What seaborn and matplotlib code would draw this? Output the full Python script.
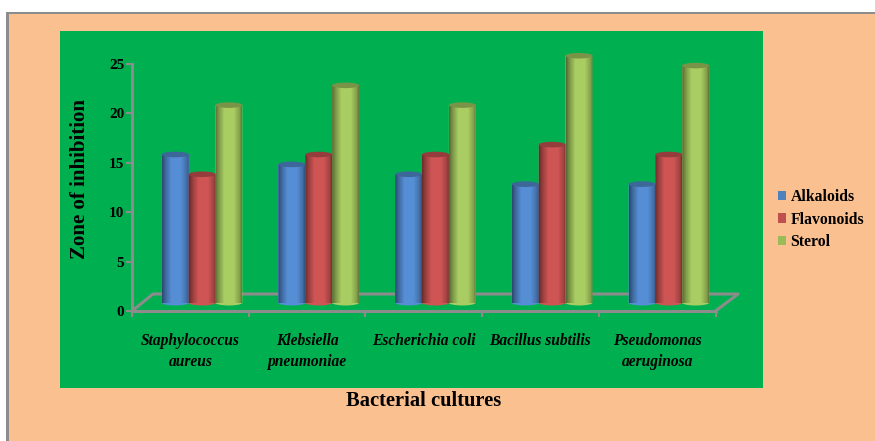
import numpy as np
import pandas as pd
import seaborn as sns
import matplotlib
matplotlib.use("Agg")
import matplotlib.pyplot as plt
from matplotlib.patches import Rectangle, Ellipse, Patch, PathPatch
from matplotlib.path import Path
from matplotlib.lines import Line2D

cultures = ["Staphylococcus\naureus", "Klebsiella\npneumoniae", "Escherichia coli",
            "Bacillus subtilis", "Pseudomonas\naeruginosa"]
alkaloids = [15, 14, 13, 12, 12]
flavonoids = [13, 15, 15, 16, 15]
sterol = [20, 22, 20, 25, 24]
series_names = ["Alkaloids", "Flavonoids", "Sterol"]
bar_colors = ["#558ED5", "#CF5555", "#A9CD62"]
legend_colors = ["#4F81BD", "#C0504D", "#9BBB59"]

W, H = 875, 441
sns.set_theme(style="white")
plt.rcParams["font.family"] = ["Liberation Serif", "DejaVu Serif"]
plt.rcParams["font.weight"] = "bold"

fig = plt.figure(figsize=(W / 100, H / 100), dpi=100, facecolor="white")


def fx(x):
    return x / W


def fy(y):
    return 1 - y / H


PEACH, GREEN, GREY = "#FBC08F", "#00B050", "#8C8C8C"
fig.add_artist(Rectangle((fx(6), 0), 1, fy(12), transform=fig.transFigure, fc=GREY, ec="none", zorder=-4))
fig.add_artist(Rectangle((fx(9), 0), 1, fy(14), transform=fig.transFigure, fc=PEACH, ec="none", zorder=-3))
fig.add_artist(Rectangle((fx(60), fy(388)), fx(703), 357 / H, transform=fig.transFigure, fc=GREEN, ec="none", zorder=-1))

L, R, T, B = 132, 715.5, 64, 311
ax = fig.add_axes([fx(L), fy(B), fx(R - L), (B - T) / H], facecolor="none")
ax.set_zorder(1)
ax.set_xlim(-0.5, 4.5)
ax.set_ylim(0, 25)
ax.set_yticks(range(0, 26, 5))
ax.set_xticks(range(5), cultures)
ax.set_xticks(np.arange(-0.5, 5), minor=True)
for s in ("top", "right"):
    ax.spines[s].set_visible(False)
for s in ("left", "bottom"):
    ax.spines[s].set_color(GREY)
    ax.spines[s].set_linewidth(2.2)
ax.tick_params(axis="y", length=4, width=1.5, color=GREY, left=True, pad=1.5, labelsize=11, labelcolor="black")
ax.tick_params(axis="x", which="major", length=0, pad=15.5, labelsize=11.2, labelcolor="black")
ax.tick_params(axis="x", which="minor", length=4, width=1.5, color=GREY, bottom=True)
for t in ax.get_xticklabels():
    t.set_fontstyle("italic")
    t.set_linespacing(1.42)
    t.set_verticalalignment("top")
ax.set_xlabel("Bacterial cultures", fontsize=14.8, fontweight="bold", color="black")
ax.xaxis.set_label_coords(fx(423.5), fy(401), transform=fig.transFigure)
ax.xaxis.label.set_va("center")
ax.set_ylabel("Zone of inhibition", fontsize=15, fontweight="bold", color="black")
ax.yaxis.set_label_coords(fx(80), fy(179), transform=fig.transFigure)
ax.yaxis.label.set_va("center")

# floor of the pseudo-3D box
xs, ys = (L, L + 21, 738, R), (B, 294, 294, B)
ax.add_line(Line2D([fx(v) for v in xs], [fy(v) for v in ys], transform=fig.transFigure,
                   color=GREY, lw=2.2, clip_on=False, zorder=0.5))

# cylinders, in an axes shifted by the depth of the box
DX, DY = 11.7, 8.3
ax3 = fig.add_axes([fx(L + DX), fy(B - DY), fx(R - L), (B - T) / H], facecolor="none")
ax3.set_zorder(2)
df = pd.DataFrame({
    "culture": cultures * 3,
    "series": np.repeat(series_names, 5),
    "value": alkaloids + flavonoids + sterol,
})
sns.barplot(data=df, x="culture", y="value", hue="series", hue_order=series_names,
            palette=bar_colors, saturation=1, width=0.69, gap=0, legend=False, ax=ax3,
            errorbar=None, linewidth=0)
ax3.set_xlim(-0.5, 4.5)
ax3.set_ylim(0, 25)
ax3.axis("off")

ry = 2.8 * 25 / (B - T)  # half-height of the ellipses in data units
grad = np.interp(np.linspace(0, 1, 64), [0, 0.12, 0.35, 0.7, 0.92, 1], [0.5, 0.28, 0, 0, 0.22, 0.42])
img = np.zeros((1, 64, 4))
img[..., 3] = grad
k = 0.5522848
for p in list(ax3.patches):
    x0, w, h = p.get_x(), p.get_width(), p.get_height()
    c = p.get_facecolor()[:3]
    x1, xm = x0 + w, x0 + w / 2
    verts = [(x0, h), (x0, 0), (x0, -k * ry), (xm - k * w / 2, -ry), (xm, -ry),
             (xm + k * w / 2, -ry), (x1, -k * ry), (x1, 0), (x1, h), (x0, h)]
    codes = [Path.MOVETO, Path.LINETO, Path.CURVE4, Path.CURVE4, Path.CURVE4,
             Path.CURVE4, Path.CURVE4, Path.CURVE4, Path.LINETO, Path.CLOSEPOLY]
    body = PathPatch(Path(verts, codes), fc=c, ec="none", clip_on=False, zorder=3)
    ax3.add_patch(body)
    im = ax3.imshow(img, extent=(x0, x1, -ry, h), aspect="auto", zorder=3.1, interpolation="bilinear")
    im.set_clip_path(body)
    ax3.add_patch(Ellipse((xm, h), w, 2 * ry, fc=np.array(c) * 0.72, ec="none", clip_on=False, zorder=3.2))
ax3.set_xlim(-0.5, 4.5)
ax3.set_ylim(0, 25)

handles = [Patch(fc=c, ec="none") for c in legend_colors]
fig.legend(handles, series_names, loc="center left", bbox_to_anchor=(fx(778), fy(219.5)),
           frameon=False, fontsize=11.3, handlelength=0.52, handleheight=0.52, handletextpad=0.28,
           labelspacing=0.42, borderpad=0, borderaxespad=0, labelcolor="black")

fig.savefig("out.png", dpi=100, facecolor=fig.get_facecolor())
